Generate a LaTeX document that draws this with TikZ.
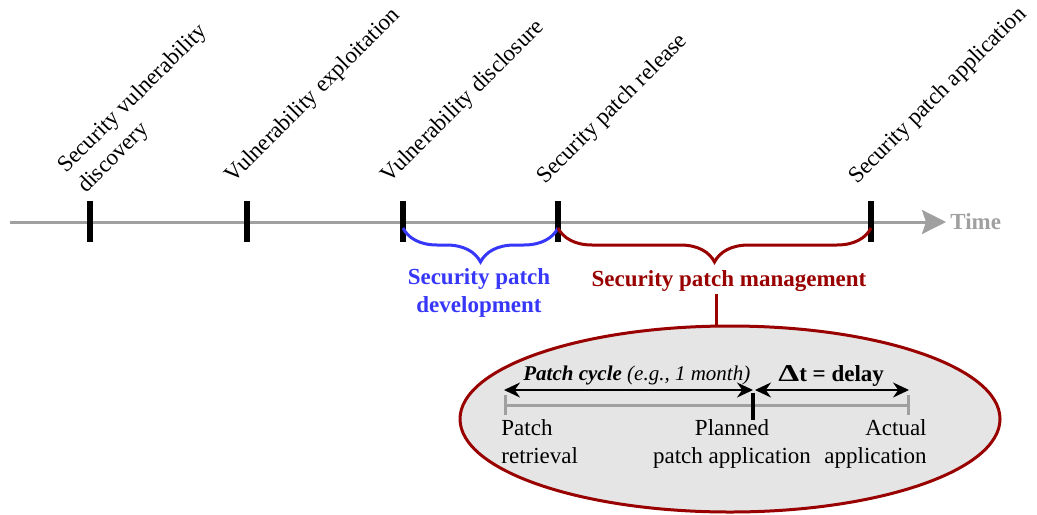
\documentclass[tikz,border=0pt]{standalone}
\usepackage{fontspec}
\setmainfont{Liberation Serif}
\usetikzlibrary{arrows.meta,decorations.pathreplacing,shapes.geometric,calc}
\definecolor{axisgray}{RGB}{160,160,160}
\definecolor{devblue}{RGB}{55,55,250}
\definecolor{mgmtred}{RGB}{153,0,0}
\definecolor{ellfill}{RGB}{229,229,229}
\begin{document}
\begin{tikzpicture}[x=0.5pt,y=-0.5pt,
  every node/.style={font=\fontsize{11.5}{14}\selectfont, inner sep=0pt},
  axis/.style={draw=axisgray, line width=1.5pt},
  tickmark/.style={draw=black, line width=2.8pt},
  evlabel/.style={rotate=45, anchor=base west, align=left},
  bracestyle/.style={decorate, decoration={brace, mirror, amplitude=17pt}, line width=1.5pt},
  dblarrow/.style={draw=black, line width=1pt, {Stealth[length=8pt,width=7.5pt]}-{Stealth[length=8pt,width=7.5pt]}},
]
\useasboundingbox (0,0) rectangle (1037,514);

% main timeline
\coordinate (tstart) at (10,222);
\coordinate (tend) at (946,222);
\node[anchor=base west, text=axisgray, font=\fontsize{11.5}{14}\selectfont\bfseries] (time) at (950,229) {Time};
\draw[axis, -{Stealth[length=12pt,width=12pt,inset=2pt]}] (tstart) -- (tend);

\coordinate (t1) at (90,222);
\coordinate (t2) at (247,222);
\coordinate (t3) at (403,222);
\coordinate (t4) at (558,222);
\coordinate (t5) at (871,222);
\foreach \t in {t1,t2,t3,t4,t5}
  \draw[tickmark] ($(\t)+(0,-21)$) -- ($(\t)+(0,20)$);

% event labels
\node[evlabel] (l1) at (86,194) {Security vulnerability\\discovery};
\node[evlabel] (l2) at (233,184) {Vulnerability exploitation};
\node[evlabel] (l3) at (389,184) {Vulnerability disclosure};
\node[evlabel] (l4) at (545,185) {Security patch release};
\node[evlabel] (l5) at (857,185) {Security patch application};

% braces
\draw[bracestyle, draw=devblue] ($(t3)+(0,6)$) -- ($(t4)+(0,6)$);
\draw[bracestyle, draw=mgmtred] ($(t4)+(0,6)$) -- ($(t5)+(0,6)$);

\node[anchor=base, align=center, text=devblue, font=\fontsize{11.5}{14}\selectfont\bfseries] (dev) at (479,312) {Security patch\\development};
\node[anchor=base, text=mgmtred, font=\fontsize{11.5}{14}\selectfont\bfseries] (mgmt) at (729,286) {Security patch management};

% zoom ellipse
\coordinate (mgmttop) at (716,294);
\node[ellipse, draw=mgmtred, fill=ellfill, line width=1.5pt, minimum width=270pt, minimum height=93pt] (box) at (730,419) {};
\draw[mgmtred, line width=1.5pt] (mgmttop) -- (box.north -| mgmttop);

% inner timeline
\coordinate (pr) at (504,405);
\coordinate (pa) at (753,405);
\coordinate (aa) at (910,405);
\draw[axis, {Bar[width=10pt]}-{Bar[width=10pt]}] (pr) -- (aa);
\draw[draw=black, line width=1.6pt] ($(pa)+(0,-12)$) -- ($(pa)+(0,15)$);

\draw[dblarrow] ($(pr)+(0,-15)$) -- ($(pa)+(0,-15)$);
\draw[dblarrow] ($(pa)+(2,-15)$) -- ($(aa)+(-1,-15)$);

\node[anchor=base west, font=\fontsize{10.5}{12}\selectfont] (cyc) at (523,380) {\textbf{\textit{Patch cycle}} \textit{(e.g., 1 month)}};
\node[anchor=base west, font=\fontsize{11.5}{14}\selectfont\bfseries] (dt) at (778,381) {\scalebox{1.45}[1.05]{Δ}t = delay};

\node[anchor=base west, align=left] (lpr) at (501,463) {Patch\\retrieval};
\node[anchor=base, align=center] (lpa) at (732,463) {Planned\\patch application};
\node[anchor=base east, align=right] (laa) at (927,463) {Actual\\application};
\end{tikzpicture}
\end{document}
